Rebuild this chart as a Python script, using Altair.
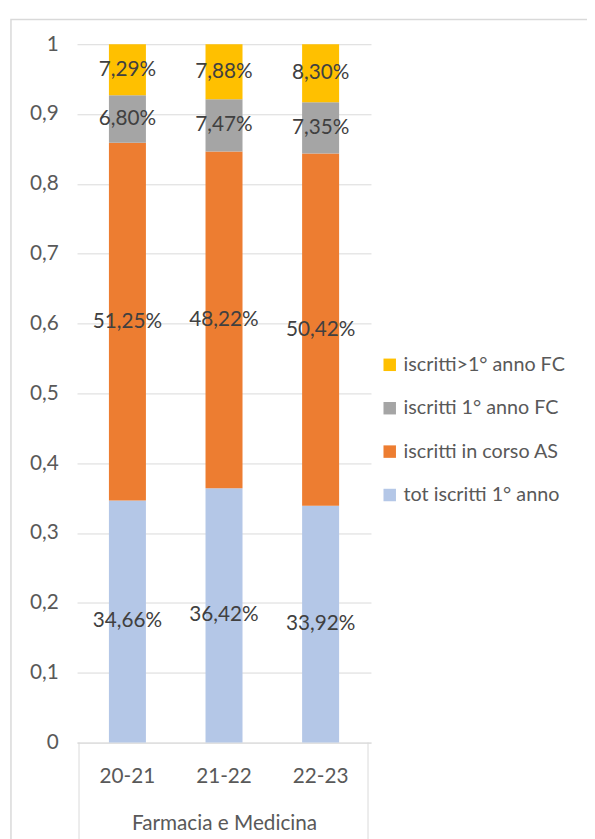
import altair as alt
import pandas as pd

years = ["20-21", "21-22", "22-23"]
series = ["tot iscritti 1° anno", "iscritti in corso AS", "iscritti 1° anno FC", "iscritti>1° anno FC"]
tot_primo = [0.3466, 0.3642, 0.3392]
in_corso = [0.5125, 0.4822, 0.5042]
primo_fc = [0.0680, 0.0747, 0.0735]
oltre_fc = [0.0729, 0.0788, 0.0830]
colors = ["#B4C7E7", "#ED7D31", "#A5A5A5", "#FFC000"]

rows = []
for i, s_vals in enumerate([tot_primo, in_corso, primo_fc, oltre_fc]):
    for y, v in zip(years, s_vals):
        rows.append({"anno": y, "serie": series[i], "idx": i, "v": v})
df = pd.DataFrame(rows)

FONT = "Lato"
AX = "#595959"
H = 708

base = alt.Chart(df).transform_stack(
    stack="v", groupby=["anno"], as_=["y0", "y1"], sort=[alt.SortField("idx", order="ascending")]
).transform_calculate(
    mid="(datum.y0 + datum.y1) / 2",
    lab="replace(format(datum.v * 100, '.2f'), '.', ',') + '%'",
)

xenc = alt.X(
    "anno:N",
    sort=years,
    scale=alt.Scale(paddingInner=0.617, paddingOuter=0.33),
    axis=alt.Axis(
        title="Farmacia e Medicina",
        labelAngle=0,
        ticks=False,
        domainColor="#D9D9D9",
        labelColor=AX,
        labelFont=FONT,
        labelFontSize=21,
        labelPadding=23,
        titleColor=AX,
        titleFont=FONT,
        titleFontSize=21,
        titleFontWeight="normal",
        titlePadding=27,
    ),
)

bars = base.mark_bar().encode(
    x=xenc,
    y=alt.Y(
        "y0:Q",
        scale=alt.Scale(domain=[0, 1]),
        axis=alt.Axis(
            title=None,
            values=[0, 0.1, 0.2, 0.3, 0.4, 0.5, 0.6, 0.7, 0.8, 0.9, 1],
            labelExpr="replace(format(datum.value, '.1~f'), '.', ',')",
            domain=False,
            ticks=False,
            gridColor="#D9D9D9",
            labelColor=AX,
            labelFont=FONT,
            labelFontSize=21,
            labelPadding=19,
        ),
    ),
    y2="y1:Q",
    color=alt.Color(
        "serie:N",
        scale=alt.Scale(domain=series[::-1], range=colors[::-1]),
        legend=alt.Legend(
            title=None,
            orient="none",
            legendX=307,
            legendY=315,
            symbolType="square",
            symbolSize=160,
            symbolStrokeWidth=0,
            labelColor=AX,
            labelFont=FONT,
            labelFontSize=20,
            labelLimit=0,
            rowPadding=24,
            labelOffset=4,
        ),
    ),
)

texts = base.mark_text(font=FONT, fontSize=21, color="#404040").encode(
    x=alt.X("anno:N", sort=years),
    y=alt.Y("mid:Q"),
    text="lab:N",
)

one = pd.DataFrame({"k": [0]})
frame = alt.Chart(one).mark_rect(fillOpacity=0, stroke="#D9D9D9", strokeWidth=1.5).encode(
    x=alt.value(-67), x2=alt.value(560), y=alt.value(-25), y2=alt.value(860)
)
left_rule = alt.Chart(one).mark_rule(color="#D9D9D9").encode(
    x=alt.value(2), y=alt.value(H), y2=alt.value(860)
)
right_rule = alt.Chart(one).mark_rule(color="#D9D9D9").encode(
    x=alt.value(295), y=alt.value(H), y2=alt.value(860)
)

chart = alt.layer(frame, left_rule, right_rule, bars, texts).properties(
    width=298,
    height=H,
    autosize=alt.AutoSizeParams(type="none"),
    padding={"left": 70, "top": 31, "right": 219, "bottom": 92},
).configure_view(stroke=None)

chart.save("out.html", embed_options={"renderer": "svg", "actions": False})
